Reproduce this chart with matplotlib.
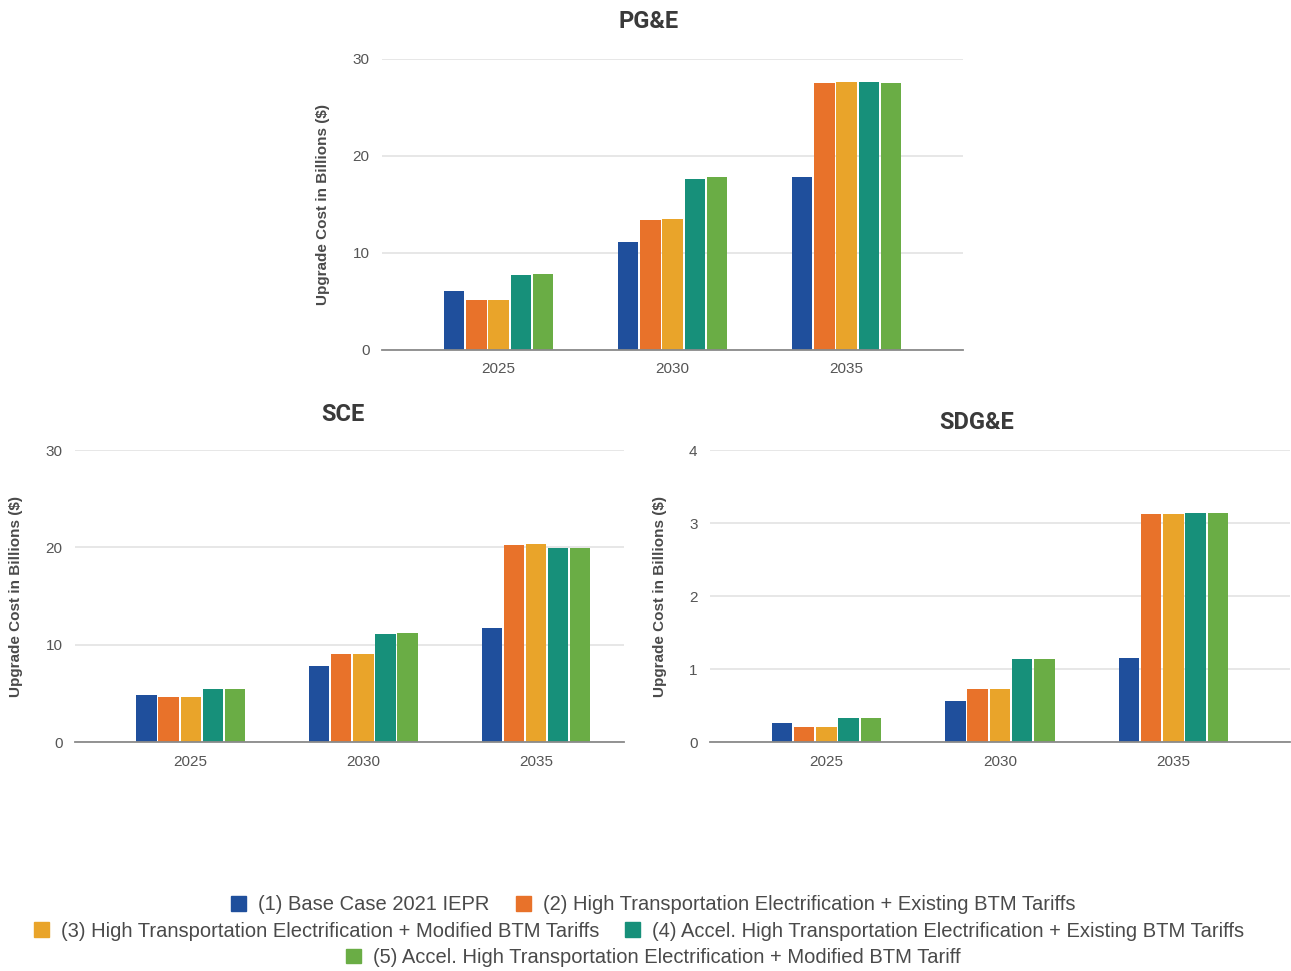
import matplotlib.pyplot as plt
import numpy as np
from matplotlib.patches import Patch

plt.rcParams['font.family'] = ['Liberation Sans', 'DejaVu Sans']

years = ["2025", "2030", "2035"]
scenarios = [
    "(1) Base Case 2021 IEPR",
    "(2) High Transportation Electrification + Existing BTM Tariffs",
    "(3) High Transportation Electrification + Modified BTM Tariffs",
    "(4) Accel. High Transportation Electrification + Existing BTM Tariffs",
    "(5) Accel. High Transportation Electrification + Modified BTM Tariff",
]
colors = ["#1f4f9c", "#e8722a", "#e9a42a", "#17907a", "#6aad45"]

# upgrade cost in billions, one list per scenario (2025, 2030, 2035)
pge = [
    [6.05, 11.1, 17.8],
    [5.15, 13.35, 27.5],
    [5.2, 13.45, 27.6],
    [7.75, 17.65, 27.6],
    [7.85, 17.8, 27.5],
]
sce = [
    [4.8, 7.8, 11.7],
    [4.6, 9.0, 20.2],
    [4.6, 9.0, 20.3],
    [5.5, 11.1, 19.9],
    [5.5, 11.2, 19.9],
]
sdge = [
    [0.26, 0.56, 1.15],
    [0.20, 0.72, 3.12],
    [0.20, 0.72, 3.13],
    [0.33, 1.14, 3.14],
    [0.33, 1.14, 3.14],
]


def draw_panel(ax, data, title, ymax, yticks, xlim, title_x, title_pad):
    x = np.arange(len(years))
    width = 0.118
    step = 0.128
    for i, vals in enumerate(data):
        ax.bar(x + (i - 2) * step, vals, width, color=colors[i], zorder=3)
    ax.set_xticks(x)
    ax.set_xticklabels(years)
    ax.set_yticks(yticks)
    ax.set_ylim(0, ymax)
    ax.set_xlim(*xlim)
    ax.grid(axis="y", color="#e3e3e3", linewidth=1.2, zorder=0)
    for s in ["top", "right", "left"]:
        ax.spines[s].set_visible(False)
    ax.spines["bottom"].set_color("#8a8a8a")
    ax.spines["bottom"].set_linewidth(1.3)
    ax.spines["bottom"].set_zorder(4)
    ax.tick_params(length=0, labelsize=11, labelcolor="#555555")
    ax.tick_params(axis="y", pad=9)
    ax.tick_params(axis="x", pad=9)
    ax.set_ylabel("Upgrade Cost in Billions ($)", fontsize=11, fontweight="bold",
                  color="#4a4a4a", labelpad=16)
    t = ax.set_title(title, fontsize=17, fontweight="bold", color="#3a3a3a",
                     family=["Roboto", "DejaVu Sans"], pad=title_pad)
    t.set_x(title_x)


fig = plt.figure(figsize=(12.91, 9.71), dpi=100)

ax1 = fig.add_axes([0.296, 0.6396, 0.450, 0.2997])
draw_panel(ax1, pge, "PG&E", 30, [0, 10, 20, 30], (-0.67, 2.67), 0.458, 22)

ax2 = fig.add_axes([0.0581, 0.2358, 0.4253, 0.3007])
draw_panel(ax2, sce, "SCE", 30, [0, 10, 20, 30], (-0.67, 2.51), 0.488, 21)

ax3 = fig.add_axes([0.550, 0.2358, 0.449, 0.3007])
draw_panel(ax3, sdge, "SDG&E", 4, [0, 1, 2, 3, 4], (-0.67, 2.67), 0.46, 15)

# legend laid out in three centred rows
handles = [Patch(color=c) for c in colors]
rows = [[0, 1], [2, 3], [4]]
row_pos = [(0.506, 0.068), (0.495, 0.041), (0.506, 0.014)]
for idx, (lx, ly) in zip(rows, row_pos):
    leg = fig.legend([handles[i] for i in idx], [scenarios[i] for i in idx],
                     loc="center", bbox_to_anchor=(lx, ly), ncol=len(idx),
                     frameon=False, fontsize=14.5, handlelength=0.75, handleheight=0.75,
                     handletextpad=0.6, columnspacing=1.3, borderpad=0)
    for t in leg.get_texts():
        t.set_color("#4a4a4a")

fig.savefig("out.png", dpi=100, facecolor="white")
